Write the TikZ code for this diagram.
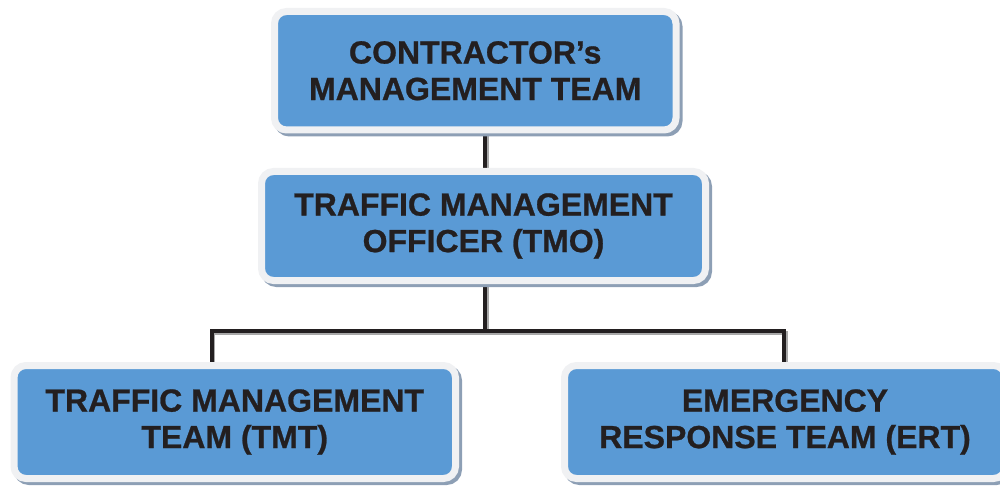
\documentclass[tikz,border=0pt]{standalone}
\usepackage{fontspec}
\setmainfont{Liberation Sans}
\newfontfamily\heavyfont[FakeBold=0.8]{Liberation Sans Bold}
\definecolor{boxblue}{HTML}{5A9AD5}
\definecolor{rimgray}{HTML}{F0F1F3}
\definecolor{shadowcol}{HTML}{8D9FB5}
\definecolor{ink}{HTML}{231F20}
\definecolor{lineshadow}{HTML}{A8A8A8}
\pgfdeclarelayer{background}
\pgfsetlayers{background,main}
\tikzset{
  orgbox/.style={rectangle, rounded corners=12pt, fill=boxblue, draw=rimgray,
    line width=7pt, inner sep=0pt, align=center, text=ink,
    font=\heavyfont\fontsize{32}{36.5}\selectfont,
    preaction={draw=shadowcol, fill=shadowcol, line width=7pt,
      transform canvas={shift={(3pt,-3pt)}}}},
  link/.style={draw=ink, line width=4pt,
    preaction={draw=lineshadow, line width=4pt,
      transform canvas={shift={(1.5pt,-2pt)}}}}
}
\begin{document}
\begin{tikzpicture}[x=1pt,y=-1pt]
\useasboundingbox (0,0) rectangle (1000,486);
\clip (0,0) rectangle (1000,486);
\node[orgbox, minimum width=401.5pt, minimum height=118.5pt] (cmt) at (475.25,70.75)
  {CONTRACTOR’s\\MANAGEMENT TEAM};
\node[orgbox, minimum width=444pt, minimum height=109pt] (tmo) at (483.5,226)
  {TRAFFIC MANAGEMENT\\OFFICER (TMO)};
\node[orgbox, minimum width=441.5pt, minimum height=113pt] (tmt) at (234.75,422)
  {TRAFFIC MANAGEMENT\\TEAM (TMT)};
\node[orgbox, minimum width=441pt, minimum height=113pt] (ert) at (785,422)
  {EMERGENCY\\RESPONSE TEAM (ERT)};
\coordinate (trunk) at (485,331);
\coordinate (lx) at (211.5,331);
\coordinate (rx) at (784,331);
\begin{pgfonlayer}{background}
\draw[link] (cmt.south -| trunk) -- (tmo.north -| trunk);
\draw[link] (tmo.south -| trunk) -- (trunk);
\draw[link] (tmt.north -| lx) -- (lx) -- (rx) -- (ert.north -| rx);
\end{pgfonlayer}
\end{tikzpicture}
\end{document}
